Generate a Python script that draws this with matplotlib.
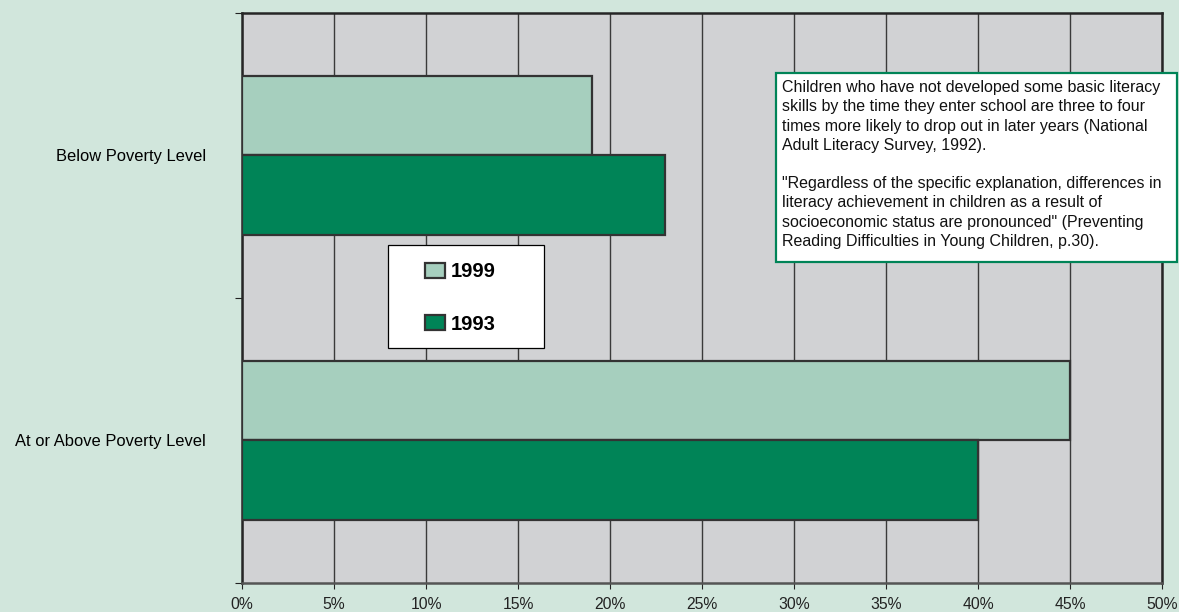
import matplotlib
matplotlib.use("Agg")
import matplotlib.pyplot as plt
from matplotlib.patches import Rectangle
import numpy as np

plt.rcParams["font.family"] = ["Liberation Sans", "DejaVu Sans"]

# data
categories = ["At or Above Poverty Level", "Below Poverty Level"]
pct_1999 = [45, 19]
pct_1993 = [40, 23]
xticks = [0, 5, 10, 15, 20, 25, 30, 35, 40, 45, 50]

note = ("Children who have not developed some basic literacy\n"
        "skills by the time they enter school are three to four\n"
        "times more likely to drop out in later years (National\n"
        "Adult Literacy Survey, 1992).\n"
        "\n"
        "\"Regardless of the specific explanation, differences in\n"
        "literacy achievement in children as a result of\n"
        "socioeconomic status are pronounced\" (Preventing\n"
        "Reading Difficulties in Young Children, p.30).")

BG = "#D1E6DC"
PLOT_BG = "#D1D2D4"
LIGHT = "#A6CFBE"
DARK = "#008457"
EDGE = "#333333"

fig = plt.figure(figsize=(11.79, 6.12), dpi=100, facecolor=BG)
ax = fig.add_axes([0.2053, 0.0474, 0.7803, 0.9314])
ax.set_facecolor(PLOT_BG)

y = np.arange(len(categories))
h = 0.28
b99 = ax.barh(y + h / 2, pct_1999, height=h, color=LIGHT, edgecolor=EDGE,
              linewidth=1.6, label="1999", zorder=3)
b93 = ax.barh(y - h / 2, pct_1993, height=h, color=DARK, edgecolor=EDGE,
              linewidth=1.6, label="1993", zorder=3)

ax.set_xlim(0, 50)
ax.set_ylim(-0.5, 1.5)
ax.set_xticks(xticks)
ax.set_xticklabels([f"{v}%" for v in xticks], fontsize=11.3)
ax.tick_params(axis="x", length=4, width=0.8, pad=6, colors="#222222")
ax.xaxis.grid(True, color="#3a3a3a", linewidth=1.0, zorder=1)
ax.set_axisbelow(True)

# category labels at centers, tick marks at band edges
ax.set_yticks([-0.5, 0.5, 1.5])
ax.set_yticklabels([])
ax.tick_params(axis="y", length=5, width=0.8, direction="out", colors="#222222")
ax.set_yticks(y, minor=True)
ax.set_yticklabels(categories, minor=True, fontsize=11.9)
ax.tick_params(axis="y", which="minor", length=0, pad=26)

for side in ["left", "right", "top", "bottom"]:
    ax.spines[side].set_color("#262626")
    ax.spines[side].set_linewidth(1.8)
ax.spines["bottom"].set_color("#555555")

# legend: white box with the two entries centred in it
ax.add_patch(Rectangle((0.1587, 0.4123), 0.1696, 0.1807, transform=ax.transAxes,
                       facecolor="white", edgecolor="black", linewidth=0.9, zorder=5))
leg = ax.legend(handles=[b99, b93], loc="center", bbox_to_anchor=(0.2374, 0.5000),
                prop={"weight": "bold", "size": 14.5}, frameon=False,
                borderpad=0, labelspacing=1.65, handlelength=0.95,
                handleheight=0.8, handletextpad=0.3, borderaxespad=0)
leg.set_zorder(6)

fig.patches.append(Rectangle((0.6582, 0.5719), 0.3401, 0.3088, transform=fig.transFigure,
                             facecolor="white", edgecolor=DARK, linewidth=1.6, zorder=6))
fig.text(0.6633, 0.8690, note, ha="left", va="top", fontsize=11.5,
         linespacing=1.35, color="#111111", zorder=7)

fig.savefig("out.png", dpi=100, facecolor=BG)
